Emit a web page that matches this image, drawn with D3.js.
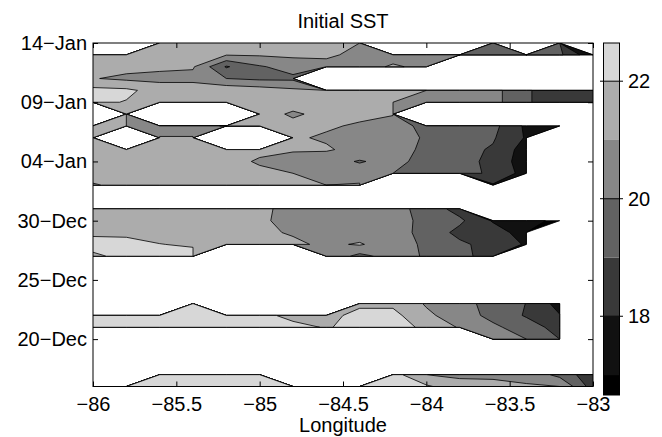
<!DOCTYPE html>
<html>
<head>
<meta charset="utf-8">
<script src="https://cdn.jsdelivr.net/npm/d3@7"></script>
<style>
body { margin: 0; background: #fff; }
text { font-family: "Liberation Sans", Arial, Helvetica, sans-serif; fill: #000; }
</style>
</head>
<body>
<svg id="chart" width="662" height="437"></svg>
<script>
var N = null;

// grid columns (longitude) and rows (one per day, top row first)
var lons = [-86, -85.8, -85.6, -85.4, -85.2, -85, -84.8, -84.6, -84.4, -84.2, -84, -83.8, -83.6, -83.4, -83.2, -83];
var firstDay = "2004-01-14";
var lastDay = "2003-12-16";
var dayTicks = ["2003-12-20", "2003-12-25", "2003-12-30", "2004-01-04", "2004-01-09", "2004-01-14"];
var lonTicks = [-86, -85.5, -85, -84.5, -84, -83.5, -83];

// contour levels and their fill shades
var levels = [16, 17, 18, 19, 20, 21, 22];
var levelColors = ["#000000", "#111111", "#393939", "#626262", "#878787", "#acacac", "#d7d7d7"];
var cbarRange = [16.66, 22.65];
var cbarTicks = [18, 20, 22];

// initial SST, rows from 14-Jan down to 16-Dec (null = no data)
var sst = [
  [N, N, 21.5, 21.5, 21.4, 21.3, 21.3, 21.2, 21.0, N, N, N, 19.5, N, 19.4, N],                          // 14-Jan
  [21.5, 21.5, 21.4, 21.3, 21.05, 21.1, 21.2, 21.2, 20.7, 20.5, 20.4, 20.0, 19.05, 19.7, 19.2, 17.2],  // 13-Jan
  [21.4, 21.3, 21.2, 21.1, 18.9, 19.9, 20.4, 20.6, 20.5, 21.15, 20.7, N, N, N, N, N],                 // 12-Jan
  [21.05, 20.8, 20.7, 20.7, 20.0, 19.8, 19.8, N, N, N, N, N, N, N, N, N],                             // 11-Jan
  [22.3, 22.2, 21.6, 21.6, 21.7, 21.5, 21.2, 21.0, 21.3, 21.2, 21.0, 20.5, 20.35, 19.1, 18.5, 18.5],   // 10-Jan
  [22.2, 21.95, 21.6, 21.5, 21.5, 21.4, 21.3, 21.2, 21.2, 21.0, 20.8, 20.45, 20.35, 19.1, 18.5, 18.5], // 09-Jan
  [N, 21.3, N, N, N, 21.3, 20.9, 21.2, 21.2, 21.1, N, N, N, N, N, N],                                  // 08-Jan
  [21.2, 21.0, 20.6, 20.6, 21.1, 21.2, 21.2, 21.1, 20.9, 20.3, 19.8, 19.6, 19.3, 17.8, 17.5, N],      // 07-Jan
  [21.3, N, 21.05, 21.05, N, N, 21.1, 20.9, 20.6, 20.4, 19.9, 19.5, 19.1, 17.9, N, N],                 // 06-Jan
  [21.4, 21.4, 21.4, 21.4, 21.3, 21.2, 21.1, 21.1, 20.7, 20.3, 19.85, 19.3, 18.9, 17.5, N, N],        // 05-Jan
  [21.5, 21.5, 21.4, 21.4, 21.3, 20.9, 20.6, 20.4, 19.92, 20.35, 19.6, 19.35, 18.75, 17.4, N, N],     // 04-Jan
  [21.5, 21.5, 21.5, 21.4, 21.3, 21.2, 21.0, 20.9, 20.5, 20.0, 19.7, 19.4, 18.8, 17.6, N, N],         // 03-Jan
  [20.9, 21.3, 21.4, 21.4, 21.3, 21.2, 21.1, 21.0, 21.1, N, N, N, 17.9, N, N, N],                      // 02-Jan
  [N, N, N, N, N, N, N, N, N, N, N, N, N, N, N, N],                                                    // 01-Jan
  [21.5, 21.5, 21.5, 21.5, 21.4, 21.2, 20.7, 20.6, 20.5, 20.4, 19.6, 18.6, N, N, N, N],               // 31-Dec
  [21.6, 21.6, 21.5, 21.5, 21.4, 21.1, 20.8, 20.6, 20.5, 20.3, 19.8, 19.2, 17.9, 17.4, 16.7, N],      // 30-Dec
  [21.8, 21.8, 21.7, 21.6, 21.4, 21.2, 20.9, 20.6, 20.5, 20.4, 19.7, 18.7, 18.5, 17.5, N, N],         // 29-Dec
  [22.4, 22.3, 22.02, 21.9, 21.6, 21.3, 21.2, 20.8, 21.1, 20.4, 19.85, 19.2, 18.6, 17.9, N, N],       // 28-Dec
  [21.8, 22.3, 22.3, 22.3, N, N, N, 20.7, 19.7, 20.4, 19.9, 19.2, 18.7, N, N, N],                      // 27-Dec
  [N, N, N, N, N, N, N, N, N, N, N, N, N, N, N, N],                                                    // 26-Dec
  [N, N, N, N, N, N, N, N, N, N, N, N, N, N, N, N],                                                    // 25-Dec
  [N, N, N, N, N, N, N, N, N, N, N, N, N, N, N, N],                                                    // 24-Dec
  [N, N, N, 22.3, N, N, N, N, 21.8, 21.8, 20.9, 20.4, 19.6, 18.98, 17.6, N],                            // 23-Dec
  [22.3, 22.3, 22.3, 22.4, 22.3, 22.2, 21.8, 21.7, 22.3, 22.3, 21.2, 20.5, 19.7, 18.9, 18.05, N],     // 22-Dec
  [22.3, 22.3, 22.3, 22.3, 22.3, 22.3, 22.2, 21.95, 22.2, 22.3, 21.85, 20.9, 20.2, 19.5, 18.6, N],    // 21-Dec
  [N, N, N, N, N, N, N, N, N, N, N, N, 20.5, 20.0, 19.0, N],                                            // 20-Dec
  [N, N, N, N, N, N, N, N, N, N, N, N, N, N, N, N],                                                    // 19-Dec
  [N, N, N, N, N, N, N, N, N, N, N, N, N, N, N, N],                                                    // 18-Dec
  [N, N, 22.3, 22.4, 22.3, 22.2, N, N, N, 22.4, 21.0, 20.8, 20.8, 20.7, 19.7, 18.3],                   // 17-Dec
  [N, 22.3, 22.65, 22.4, 22.3, 22.2, 22.1, N, 22.3, 22.2, 22.15, 21.4, 21.3, 21.1, 21.0, 18.5]        // 16-Dec
];

var svg = d3.select("#chart");
var plotL = 93, plotR = 593, plotT = 43, plotB = 386.5;

var parseDay = d3.utcParse("%Y-%m-%d");
var x = d3.scaleLinear().domain([-86, -83]).range([plotL, plotR]);
var y = d3.scaleUtc().domain([parseDay(lastDay), parseDay(firstDay)]).range([plotB, plotT]);

var nx = lons.length, ny = sst.length;
var colPos = d3.scaleLinear().domain([0, nx - 1]).range([x(lons[0]), x(lons[nx - 1])]);
var rowPos = d3.scaleLinear().domain([0, ny - 1])
    .range([y(parseDay(firstDay)), y(d3.utcDay.offset(parseDay(firstDay), -(ny - 1)))]);

var values = [];
sst.forEach(function(row){
    row.forEach(function(v){ values.push(v == null ? NaN : v); });
});

function at(i, j){
    var v = values[j * nx + i];
    return isNaN(v) ? -Infinity : v;
}

/* linear placement of a crossing on a grid edge, missing data stops at the valid point */
function edgePos(p, v0, v1, level){
    if (v0 === -Infinity) return p + 0.5;
    if (v1 === -Infinity) return p - 0.5;
    return p - 0.5 + (level - v0) / (v1 - v0);
}

var bands = d3.contours().size([nx, ny]).smooth(false).thresholds(levels)(values);
bands.forEach(function(b){
    b.coordinates.forEach(function(poly){
        poly.forEach(function(ring){
            ring.forEach(function(pt){
                var px = pt[0], py = pt[1], xt = Math.floor(px), yt = Math.floor(py);
                if (px > 0 && px < nx && xt === px) pt[0] = edgePos(px, at(xt - 1, yt), at(xt, yt), b.value);
                if (py > 0 && py < ny && yt === py) pt[1] = edgePos(py, at(xt, yt - 1), at(xt, yt), b.value);
            });
        });
    });
});

function ringPath(ring){
    return "M" + ring.map(function(p){
        return colPos(p[0] - 0.5).toFixed(2) + "," + rowPos(p[1] - 0.5).toFixed(2);
    }).join("L") + "Z";
}
function bandPath(b){
    return b.coordinates.map(function(poly){ return poly.map(ringPath).join(""); }).join("");
}

svg.append("clipPath").attr("id", "plotclip")
  .append("rect")
    .attr("x", plotL).attr("y", plotT)
    .attr("width", plotR - plotL).attr("height", plotB - plotT);

svg.append("g")
    .attr("clip-path", "url(#plotclip)")
  .selectAll("path")
  .data(bands)
  .join("path")
    .attr("d", bandPath)
    .attr("fill-rule", "evenodd")
    .attr("fill", function(d, i){ return levelColors[i]; })
    .attr("stroke", "#000")
    .attr("stroke-width", 0.8)
    .attr("stroke-linejoin", "round");

// axes, ticks point inward
var dayFmt = function(d){ return d3.utcFormat("%d")(d) + "\u2212" + d3.utcFormat("%b")(d); };
var dayDates = dayTicks.map(parseDay);

svg.append("g")
    .attr("transform", "translate(0," + plotB + ")")
    .call(d3.axisBottom(x).tickValues(lonTicks).tickFormat(d3.format("~g")).tickSize(-5).tickPadding(10))
    .call(function(g){ g.select(".domain").remove(); });
svg.append("g")
    .attr("transform", "translate(0," + plotT + ")")
    .call(d3.axisTop(x).tickValues(lonTicks).tickFormat("").tickSize(-5))
    .call(function(g){ g.select(".domain").remove(); });
svg.append("g")
    .attr("transform", "translate(" + plotL + ",0)")
    .call(d3.axisLeft(y).tickValues(dayDates).tickFormat(dayFmt).tickSize(-5).tickPadding(6))
    .call(function(g){ g.select(".domain").remove(); });
svg.append("g")
    .attr("transform", "translate(" + plotR + ",0)")
    .call(d3.axisRight(y).tickValues(dayDates).tickFormat("").tickSize(-5))
    .call(function(g){ g.select(".domain").remove(); });

svg.selectAll(".tick text").attr("font-size", 20).attr("font-family", null);
svg.selectAll(".tick line").attr("stroke", "#000");

svg.append("rect")
    .attr("x", plotL).attr("y", plotT)
    .attr("width", plotR - plotL).attr("height", plotB - plotT)
    .attr("fill", "none").attr("stroke", "#000").attr("stroke-width", 1);

svg.append("text")
    .attr("x", (plotL + plotR) / 2).attr("y", 28)
    .attr("text-anchor", "middle").attr("font-size", 20)
    .text("Initial SST");
svg.append("text")
    .attr("x", (plotL + plotR) / 2).attr("y", 432)
    .attr("text-anchor", "middle").attr("font-size", 20)
    .text("Longitude");

// colorbar
var cbX = 603.5, cbW = 16;
var cbY = d3.scaleLinear().domain(cbarRange).range([395, 43]);
var cbBands = levels.map(function(lv, i){
    return {
        lo: Math.max(lv, cbarRange[0]),
        hi: i < levels.length - 1 ? levels[i + 1] : cbarRange[1],
        color: levelColors[i]
    };
});
svg.append("g").selectAll("rect")
  .data(cbBands)
  .join("rect")
    .attr("x", cbX).attr("width", cbW)
    .attr("y", function(d){ return cbY(d.hi); })
    .attr("height", function(d){ return cbY(d.lo) - cbY(d.hi); })
    .attr("fill", function(d){ return d.color; });
svg.append("rect")
    .attr("x", cbX).attr("y", cbY(cbarRange[1]))
    .attr("width", cbW).attr("height", cbY(cbarRange[0]) - cbY(cbarRange[1]))
    .attr("fill", "none").attr("stroke", "#000").attr("stroke-width", 1);

var cbTick = svg.append("g").selectAll("g")
  .data(cbarTicks)
  .join("g")
    .attr("transform", function(d){ return "translate(0," + cbY(d) + ")"; });
cbTick.append("line")
    .attr("x1", cbX - 3.5).attr("x2", cbX + cbW + 3.5)
    .attr("stroke", "#000");
cbTick.append("text")
    .attr("x", 628).attr("dy", "0.35em")
    .attr("font-size", 20)
    .text(function(d){ return d; });
</script>
</body>
</html>
